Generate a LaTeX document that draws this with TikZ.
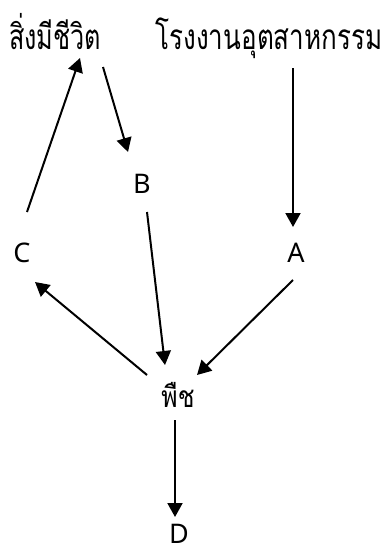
\documentclass[tikz,border=0pt]{standalone}
\usepackage{fontspec}
\usepackage{graphicx}
\setmainfont{Noto Sans}
\newfontfamily\thaifont[Script=Thai]{Loma}
\usetikzlibrary{arrows.meta,calc}
\begin{document}
\begin{tikzpicture}[x=1pt,y=-1pt,
  lbl/.style={anchor=base,inner sep=0pt,font=\fontsize{27}{31}\selectfont},
  tlbl/.style={anchor=base,inner sep=0pt,font=\thaifont\fontsize{26}{30}\selectfont},
  arr/.style={line width=2pt,-{Triangle[length=14pt,width=15pt]}}]
\useasboundingbox (0,0) rectangle (386,551);
\node[tlbl] (life) at (55,50) {\scalebox{0.97}[1.35]{สิ่งมีชีวิต}};
\node[tlbl] (factory) at (269,50) {\scalebox{1}[1.35]{โรงงานอุตสาหกรรม}};
\node[lbl] (B) at (142,193) {B};
\node[lbl] (C) at (22,262) {C};
\node[lbl] (A) at (296,262) {A};
\node[tlbl] (plant) at (178,407) {\scalebox{0.95}[1.15]{พืช}};
\node[lbl] (D) at (179,543) {D};
\draw[arr] ($(C.base)+(5,-50)$) -- ($(life.base)+(25,8)$);
\draw[arr] ($(life.base)+(48,17)$) -- ($(B.base)+(-14,-41)$);
\draw[arr] ($(B.base)+(5,19)$) -- ($(plant.base)+(-13,-42)$);
\draw[arr] ($(factory.base)+(24,18)$) -- ($(A.base)+(-3,-35)$);
\draw[arr] ($(A.base)+(-3,18)$) -- ($(plant.base)+(19,-32)$);
\draw[arr] ($(plant.base)+(-31,-32)$) -- ($(C.base)+(13,20)$);
\draw[arr] ($(plant.base)+(-3,13)$) -- ($(D.base)+(-4,-26)$);
\end{tikzpicture}
\end{document}
